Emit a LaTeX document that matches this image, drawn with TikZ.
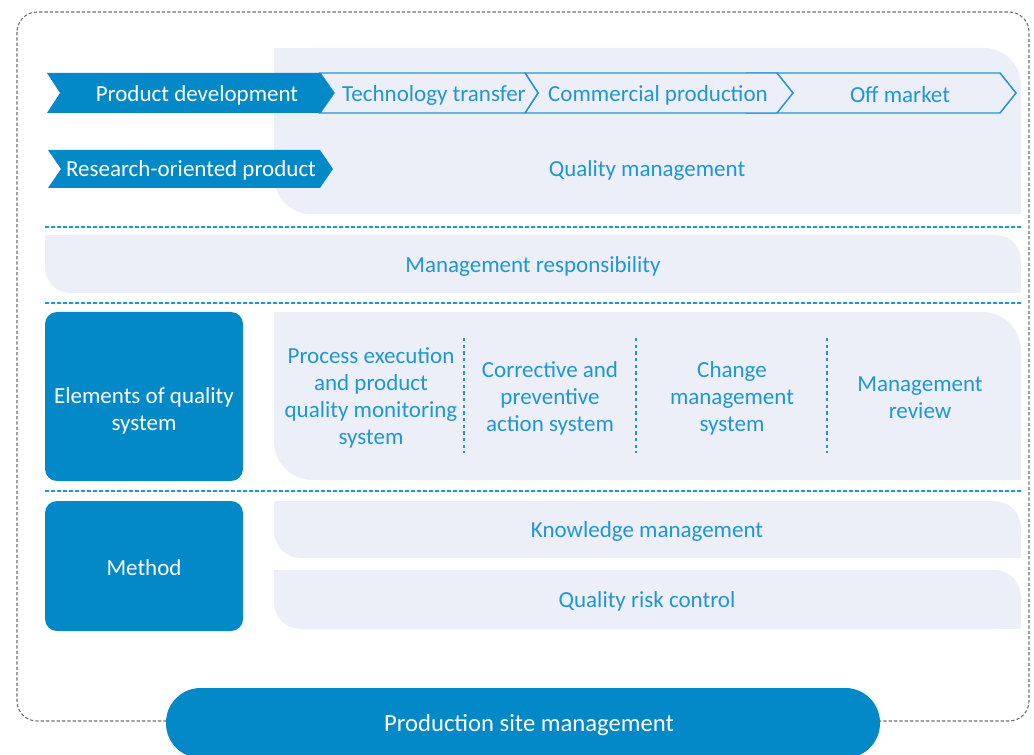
\documentclass[tikz,border=0pt]{standalone}
\usepackage{fontspec}
\setmainfont{Carlito}
\definecolor{qblue}{HTML}{0388C8}
\definecolor{qtext}{HTML}{1F97D4}
\definecolor{qlav}{HTML}{ECEEF8}
\definecolor{qgray}{HTML}{707070}
\begin{document}
\begin{tikzpicture}[x=0.75pt,y=-0.75pt,
  lbl/.style={text=qtext,font=\fontsize{17.25}{20.25}\selectfont,align=center,inner sep=0pt,yshift=-1.5pt},
  wlbl/.style={text=white,font=\fontsize{17.25}{20.25}\selectfont,align=center,inner sep=0pt,yshift=-1.5pt},
  panel/.style={fill=qlav},
  sepline/.style={draw=qtext,line width=1.1pt,dash pattern=on 3pt off 1.5pt},
  vsep/.style={draw=qtext,line width=1.3pt,dash pattern=on 2.5pt off 2.5pt},
  chevout/.style={draw=qtext,line width=1.1pt,fill=qlav,line join=miter},
  chevin/.style={fill=qblue},
  bluebox/.style={fill=qblue,rounded corners=9pt}]
\useasboundingbox (0,0) rectangle (1034,755);
% outer dashed frame
\draw[qgray,line width=0.8pt,dash pattern=on 2.5pt off 1.5pt,rounded corners=15pt] (17,12) rectangle (1029,721);
% top quality management panel (rounded TR and BL)
\fill[panel,rounded corners=28pt] (274,48) rectangle (1021,214);
\fill[panel] (274,48) rectangle (330,100);
\fill[panel] (960,160) rectangle (1021,214);
% chevrons
\path[chevout] (747,73) -- (1000,73) -- (1016,93) -- (1000,113) -- (747,113) -- (762,93) -- cycle;
\path[chevout] (525,73) -- (777,73) -- (793,93) -- (777,113) -- (525,113) -- (538,93) -- cycle;
\path[chevout] (320,73) -- (525,73) -- (538,93) -- (525,113) -- (320,113) -- (334,93) -- cycle;
\path[chevin] (47,73) -- (320,73) -- (334,93) -- (320,113) -- (47,113) -- (60,93) -- cycle;
\path[chevin] (48,150) -- (320,150) -- (333,169) -- (320,188) -- (48,188) -- (61,169) -- cycle;
\node[wlbl] (pd) at (197,93) {Product development};
\node[lbl] (tt) at (434,93) {Technology transfer};
\node[lbl] (cp) at (658,93) {Commercial production};
\node[lbl] (om) at (900,93) {Off market};
\node[wlbl] (ro) at (191,168) {Research-oriented product};
\node[lbl] (qm) at (647,168) {Quality management};
% separator lines
\coordinate (s1a) at (45,227); \coordinate (s1b) at (1021,227);
\coordinate (s2a) at (45,303); \coordinate (s2b) at (1021,303);
\coordinate (s3a) at (45,491); \coordinate (s3b) at (1021,491);
\draw[sepline] (s1a) -- (s1b);
\draw[sepline] (s2a) -- (s2b);
\draw[sepline] (s3a) -- (s3b);
% management responsibility
\fill[panel,rounded corners=19pt] (45,235) rectangle (1021,293);
\fill[panel] (45,235) rectangle (90,265);
\fill[panel] (980,265) rectangle (1021,293);
\node[lbl] (mr) at (533,264) {Management responsibility};
% elements of quality system
\fill[bluebox] (45,312) rectangle (243,481);
\node[wlbl] (eq) at (144,409) {Elements of quality\\system};
\fill[panel,rounded corners=29pt] (274,312) rectangle (1021,480);
\fill[panel] (274,312) rectangle (330,380);
\fill[panel] (960,420) rectangle (1021,480);
\node[lbl] (pe) at (371,396) {Process execution\\and product\\quality monitoring\\system};
\node[lbl] (ca) at (550,396) {Corrective and\\preventive\\action system};
\node[lbl] (cm) at (732,396) {Change\\management\\system};
\node[lbl] (rv) at (920,396) {Management\\review};
\coordinate (v1a) at (464,338); \coordinate (v1b) at (464,453);
\coordinate (v2a) at (636,338); \coordinate (v2b) at (636,453);
\coordinate (v3a) at (827,338); \coordinate (v3b) at (827,453);
\draw[vsep] (v1a) -- (v1b);
\draw[vsep] (v2a) -- (v2b);
\draw[vsep] (v3a) -- (v3b);
% method
\fill[bluebox] (45,501) rectangle (243,631);
\node[wlbl] (me) at (144,566) {Method};
\fill[panel,rounded corners=20pt] (274,501) rectangle (1021,558);
\fill[panel] (274,501) rectangle (320,530);
\fill[panel] (980,530) rectangle (1021,558);
\node[lbl] (km) at (647,529) {Knowledge management};
\fill[panel,rounded corners=20pt] (274,570) rectangle (1021,629);
\fill[panel] (274,570) rectangle (320,600);
\fill[panel] (980,600) rectangle (1021,629);
\node[lbl] (qr) at (647,599) {Quality risk control};
% production site management
\fill[qblue,rounded corners=26pt] (166,688) rectangle (880,758);
\node[wlbl,font=\fontsize{18.5}{22}\selectfont] (ps) at (529,723) {Production site management};
\end{tikzpicture}
\end{document}
